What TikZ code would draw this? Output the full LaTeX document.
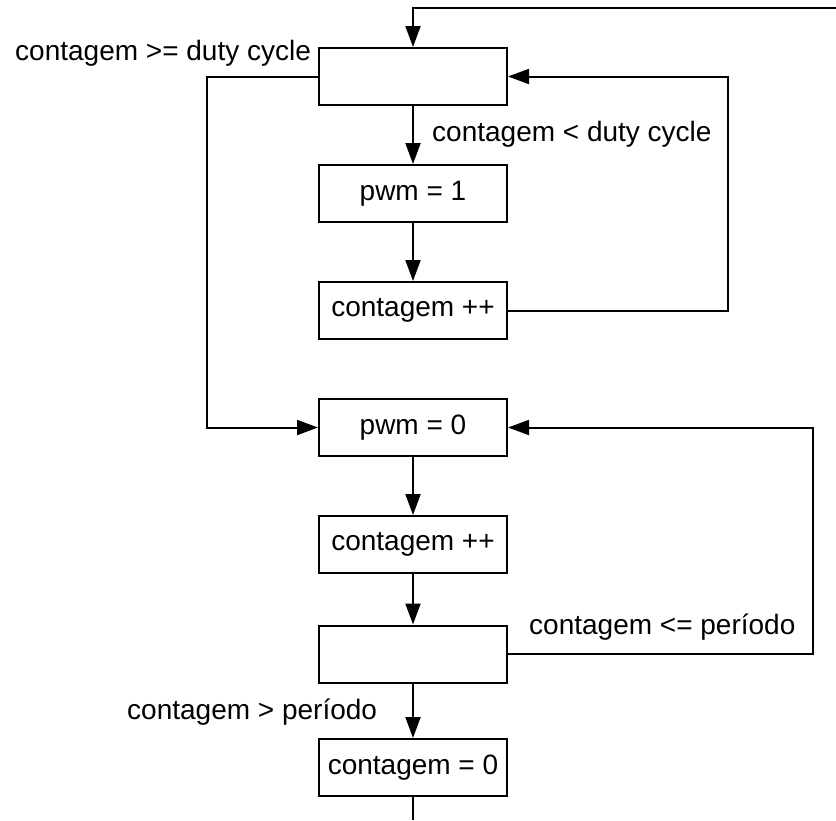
\documentclass[tikz,border=0pt]{standalone}
\usepackage{fontspec}
\setmainfont{Liberation Sans}
\usetikzlibrary{arrows.meta}
\begin{document}
\begin{tikzpicture}[x=1pt,y=-1pt,
  box/.style={draw, line width=2pt, minimum width=188pt, minimum height=57pt,
              inner sep=0pt, font=\fontsize{28}{33}\selectfont},
  lbl/.style={anchor=west, inner sep=0pt, font=\fontsize{28}{33}\selectfont},
  flow/.style={line width=2pt, -{Triangle[length=21pt,width=15pt]}},
  wire/.style={line width=2pt}]
\useasboundingbox (0,0) rectangle (836,820);

% process boxes, top to bottom
\node[box] (dutytest) at (413,76.5) {};
\node[box] (pwmhigh)  at (413,193.5) {pwm = 1};
\node[box] (inc1)     at (413,310.5) {contagem ++};
\node[box] (pwmlow)   at (413,427.5) {pwm = 0};
\node[box] (inc2)     at (413,544.5) {contagem ++};
\node[box] (pertest)  at (413,654) {};
\node[box] (reset)    at (413,767.5) {contagem = 0};

% free ends of the outer loop
\coordinate (topright) at (836,8);
\coordinate (bottom) at (413,820);

% condition labels
\node[lbl] (lgeq) at (15,53) {contagem >= duty cycle};
\node[lbl] (llt)  at (432,134) {contagem < duty cycle};
\node[lbl] (lle)  at (529,627) {contagem <= período};
\node[lbl] (lgt)  at (127,712) {contagem > período};

% main column
\draw[flow] (topright) -- (dutytest.north |- topright) -- (dutytest.north);
\draw[flow] (dutytest) -- (pwmhigh);
\draw[flow] (pwmhigh) -- (inc1);
\draw[flow] (pwmlow) -- (inc2);
\draw[flow] (inc2) -- (pertest);
\draw[flow] (pertest) -- (reset);
\draw[wire] (reset) -- (bottom);

% high-phase loop back to the duty-cycle test
\draw[flow] (inc1.east) -- (728,310.5) -- (728,76.5) -- (dutytest.east);
% duty cycle reached: go to the low phase
\draw[flow] (dutytest.west) -- (207,76.5) -- (207,427.5) -- (pwmlow.west);
% low-phase loop back
\draw[flow] (pertest.east) -- (813,654) -- (813,427.5) -- (pwmlow.east);
\end{tikzpicture}
\end{document}
